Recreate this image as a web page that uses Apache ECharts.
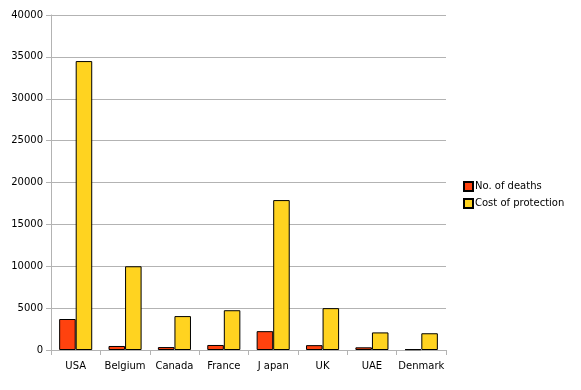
<!DOCTYPE html>
<html><head><meta charset="utf-8">
<script src="https://cdn.jsdelivr.net/npm/echarts@6/dist/echarts.min.js"></script>
<style>html,body{margin:0;padding:0;background:#fff}#c{width:581px;height:390px}</style>
</head><body><div id="c"></div>
<script>
var categories = ["USA","Belgium","Canada","France","J apan","UK","UAE","Denmark"];
var deaths = [3700, 480, 350, 600, 2250, 580, 320, 90];
var cost = [34500, 10000, 4050, 4750, 17900, 5000, 2100, 2000];
var seriesNames = ["No. of deaths", "Cost of protection"];

var chart = echarts.init(document.getElementById('c'), null, {renderer:'canvas'});
var font = 'DejaVu Sans';
chart.setOption({
  animation: false,
  textStyle: {fontFamily: font},
  grid: {left: 51, right: 135, top: 15, bottom: 40, containLabel: false},
  legend: {
    orient: 'vertical', left: 458, top: 176, itemWidth: 9, itemHeight: 9, itemGap: 6,
    icon: 'rect',
    textStyle: {fontFamily: font, fontSize: 10, color: '#000', padding: [0,0,0,-3]},
    data: seriesNames
  },
  xAxis: {
    type: 'category', data: categories,
    axisLine: {lineStyle: {color: '#b3b3b3', width: 1}},
    axisTick: {show: true, length: 5, lineStyle: {color: '#b3b3b3'}},
    axisLabel: {fontFamily: font, fontSize: 10, color: '#000', margin: 11, interval: 0}
  },
  yAxis: {
    type: 'value', min: 0, max: 40000, interval: 5000,
    axisLine: {show: true, lineStyle: {color: '#b3b3b3'}},
    axisTick: {show: true, length: 5, lineStyle: {color: '#b3b3b3'}},
    splitLine: {lineStyle: {color: '#b3b3b3'}},
    axisLabel: {fontFamily: font, fontSize: 10, color: '#000', margin: 8,
      formatter: function (v) { return String(v); }}
  },
  series: [
    {name: seriesNames[0], type: 'bar', data: deaths, barGap: '0%', barCategoryGap: '33%',
     itemStyle: {color: '#ff420e', borderColor: '#000', borderWidth: 1}},
    {name: seriesNames[1], type: 'bar', data: cost, barGap: '0%', barCategoryGap: '33%',
     itemStyle: {color: '#ffd320', borderColor: '#000', borderWidth: 1}}
  ]
});
</script></body></html>
